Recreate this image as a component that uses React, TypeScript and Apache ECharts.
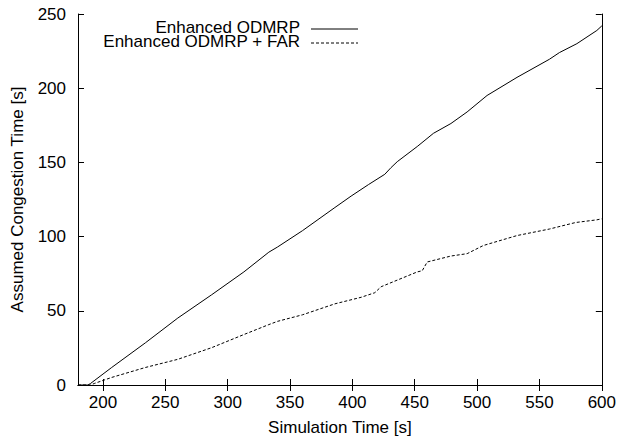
import React, { useEffect, useRef } from "react";
import * as echarts from "echarts";

const xTicks = [200, 250, 300, 350, 400, 450, 500, 550, 600];
const yTicks = [0, 50, 100, 150, 200, 250];

const odmrpX = [180, 188, 190, 207, 234, 260, 287, 313, 333, 340, 360, 386, 399, 413, 426, 431, 436, 452, 465, 479, 492, 508, 532, 558, 566, 580, 596, 600];
const odmrpY = [0, 0, 1, 11.8, 28.4, 45.1, 60.7, 76.2, 89.5, 93, 104, 119.6, 127.3, 135.1, 142, 146.5, 150.5, 160.7, 169.6, 176.2, 184, 195.1, 207.3, 219.5, 224, 230, 238.9, 242];

const farX = [180, 190, 193, 207, 234, 260, 287, 313, 333, 340, 360, 386, 407, 418, 423, 452, 456, 460, 479, 492, 505, 532, 558, 579, 596, 600];
const farY = [0, 0, 1, 5.1, 11.8, 17.3, 25.1, 34, 40.7, 42.9, 47.3, 54.7, 59.1, 62.2, 66.2, 76.2, 77, 82.9, 86.9, 88.5, 94, 100.7, 105.1, 109.5, 111.3, 112];

const seriesNames = ["Enhanced ODMRP", "Enhanced ODMRP + FAR"];

const FONT = "'Liberation Sans', Arial, sans-serif";
const FS = 17;

export default function App() {
  const ref = useRef<HTMLDivElement>(null);
  useEffect(() => {
    if (!ref.current) return;
    const chart = echarts.init(ref.current, undefined, { renderer: "svg" });
    const axisLine = { show: true, lineStyle: { color: "#000", width: 1 } };
    const tickStyle = { show: true, inside: true, length: 6, lineStyle: { color: "#000", width: 1 } };
    chart.setOption({
      animation: false,
      backgroundColor: "#fff",
      textStyle: { fontFamily: FONT },
      grid: { left: 78, right: 15, top: 14, bottom: 55 },
      xAxis: [
        {
          type: "value",
          min: 180,
          max: 600,
          position: "bottom",
          axisLine,
          axisTick: { ...tickStyle, customValues: xTicks },
          axisLabel: { customValues: xTicks, color: "#000", fontSize: FS, fontFamily: FONT, margin: 9 },
          splitLine: { show: false },
          name: "Simulation Time [s]",
          nameLocation: "middle",
          nameGap: 34,
          nameTextStyle: { color: "#000", fontSize: FS, fontFamily: FONT },
        },
        {
          type: "value",
          min: 180,
          max: 600,
          position: "top",
          axisLine,
          axisTick: { ...tickStyle, customValues: xTicks },
          axisLabel: { show: false },
          splitLine: { show: false },
        },
      ],
      yAxis: [
        {
          type: "value",
          min: 0,
          max: 250,
          interval: 50,
          position: "left",
          axisLine,
          axisTick: { ...tickStyle, customValues: yTicks },
          axisLabel: { customValues: yTicks, color: "#000", fontSize: FS, fontFamily: FONT, margin: 12 },
          splitLine: { show: false },
          name: "Assumed Congestion Time [s]",
          nameLocation: "middle",
          nameGap: 52,
          nameTextStyle: { color: "#000", fontSize: FS, fontFamily: FONT },
        },
        {
          type: "value",
          min: 0,
          max: 250,
          interval: 50,
          position: "right",
          axisLine,
          axisTick: { ...tickStyle, customValues: yTicks },
          axisLabel: { show: false },
          splitLine: { show: false },
        },
      ],
      series: [
        {
          name: seriesNames[0],
          type: "line",
          data: odmrpX.map((x, i) => [x, odmrpY[i]]),
          showSymbol: false,
          lineStyle: { color: "#000", width: 1 },
          xAxisIndex: 0,
          yAxisIndex: 0,
        },
        {
          name: seriesNames[1],
          type: "line",
          data: farX.map((x, i) => [x, farY[i]]),
          showSymbol: false,
          lineStyle: { color: "#000", width: 1, type: [3, 2] },
          xAxisIndex: 0,
          yAxisIndex: 0,
        },
      ],
      graphic: [
        { type: "text", x: 300, y: 27.5, style: { text: seriesNames[0], fill: "#000", font: `${FS}px ${FONT}`, lineHeight: 13, textAlign: "right", textVerticalAlign: "middle" } },
        { type: "line", shape: { x1: 311, y1: 29, x2: 358, y2: 29 }, style: { stroke: "#000", lineWidth: 1 } },
        { type: "text", x: 300, y: 41.5, style: { text: seriesNames[1], fill: "#000", font: `${FS}px ${FONT}`, lineHeight: 13, textAlign: "right", textVerticalAlign: "middle" } },
        { type: "line", shape: { x1: 311, y1: 43, x2: 358, y2: 43 }, style: { stroke: "#000", lineWidth: 1, lineDash: [3, 2] } },
      ],
    });
    return () => chart.dispose();
  }, []);
  return <div ref={ref} style={{ position: "fixed", left: 0, top: 0, width: 619, height: 441 }} />;
}
